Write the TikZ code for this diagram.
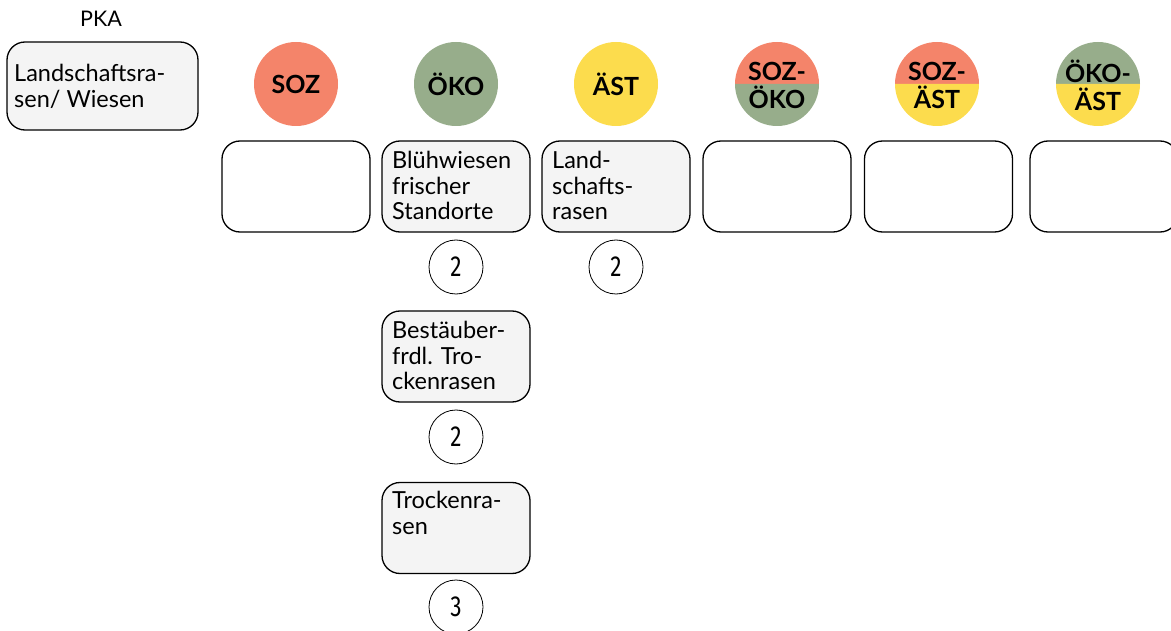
\documentclass[tikz,border=0pt]{standalone}
\usepackage{fontspec}
\usepackage{graphicx}
\setmainfont{Lato}
\newfontfamily\numfont{Fira Sans}
\definecolor{soz}{HTML}{F4846A}
\definecolor{oko}{HTML}{97AD8B}
\definecolor{ast}{HTML}{FCDC4D}
\definecolor{boxfill}{HTML}{F4F4F4}
\newcommand{\cnum}[1]{\scalebox{0.78}[1]{#1}}
\begin{document}
\begin{tikzpicture}[x=1pt,y=-1pt,
  cat/.style={rectangle, rounded corners=18pt, draw=black, line width=1.3pt, minimum width=148pt, minimum height=91pt, inner sep=0pt},
  filled/.style={cat, fill=boxfill},
  empty/.style={cat, fill=white},
  boxtext/.style={font=\fontsize{23.5}{25.5}\selectfont, align=left, anchor=north west, inner sep=0pt},
  num/.style={circle, draw=black, line width=0.8pt, minimum size=54pt, inner sep=0pt, font=\numfont\fontsize{29}{30}\selectfont},
  lbl/.style={font=\bfseries\fontsize{25}{28}\selectfont, inner sep=0pt, align=center}]
\useasboundingbox (0,0) rectangle (1171,631);
\clip (0,0) rectangle (1171,631);
% PKA
\node[font=\fontsize{21.5}{22}\selectfont, inner sep=0pt] (pka) at (101,19) {PKA};
\node[filled, minimum width=191pt, minimum height=88pt] (pkabox) at (102.5,86) {};
\node[boxtext] (pkatxt) at (14,64) {Landschaftsra-\\sen/ Wiesen};
% single colour circles
\fill[soz] (296,84) circle (42);
\node[lbl] (soz) at (296,84) {SOZ};
\fill[oko] (456,84) circle (42);
\node[lbl] (oko) at (456,84) {ÖKO};
\fill[ast] (616,84) circle (42);
\node[lbl] (ast) at (616,84) {ÄST};
% split circles
\fill[soz] (735,84) arc (180:360:42) -- cycle;
\fill[oko] (735,84) arc (180:0:42) -- cycle;
\node[lbl] (sozoko) at (777,85) {SOZ-\\ÖKO};
\fill[soz] (895,84) arc (180:360:42) -- cycle;
\fill[ast] (895,84) arc (180:0:42) -- cycle;
\node[lbl] (sozast) at (937,85) {SOZ-\\ÄST};
\fill[oko] (1056,84) arc (180:360:42) -- cycle;
\fill[ast] (1056,84) arc (180:0:42) -- cycle;
\node[lbl] (okoast) at (1098,85) {ÖKO-\\ÄST};
% boxes row
\node[empty] (b1) at (296,186.5) {};
\node[filled] (b2) at (456,186.5) {};
\node[boxtext] (t2) at (392,151) {Blühwiesen\\frischer\\Standorte};
\node[filled] (b3) at (616,186.5) {};
\node[boxtext] (t3) at (552,151) {Land-\\schafts-\\rasen};
\node[empty] (b4) at (777,186.5) {};
\node[empty] (b5) at (938.5,186.5) {};
\node[empty] (b6) at (1104,186.5) {};
% numbers
\node[num] (n2) at (456,267) {\cnum{2}};
\node[num] (n3) at (616,267) {\cnum{2}};
% column 2 extra
\node[filled] (b7) at (456,356.5) {};
\node[boxtext] (t7) at (392,321) {Bestäuber-\\frdl. Tro-\\ckenrasen};
\node[num] (n7) at (456,437) {\cnum{2}};
\node[filled] (b8) at (456,528) {};
\node[boxtext] (t8) at (392,491) {Trockenra-\\sen};
\node[num] (n8) at (456,607) {\cnum{3}};
\end{tikzpicture}
\end{document}
